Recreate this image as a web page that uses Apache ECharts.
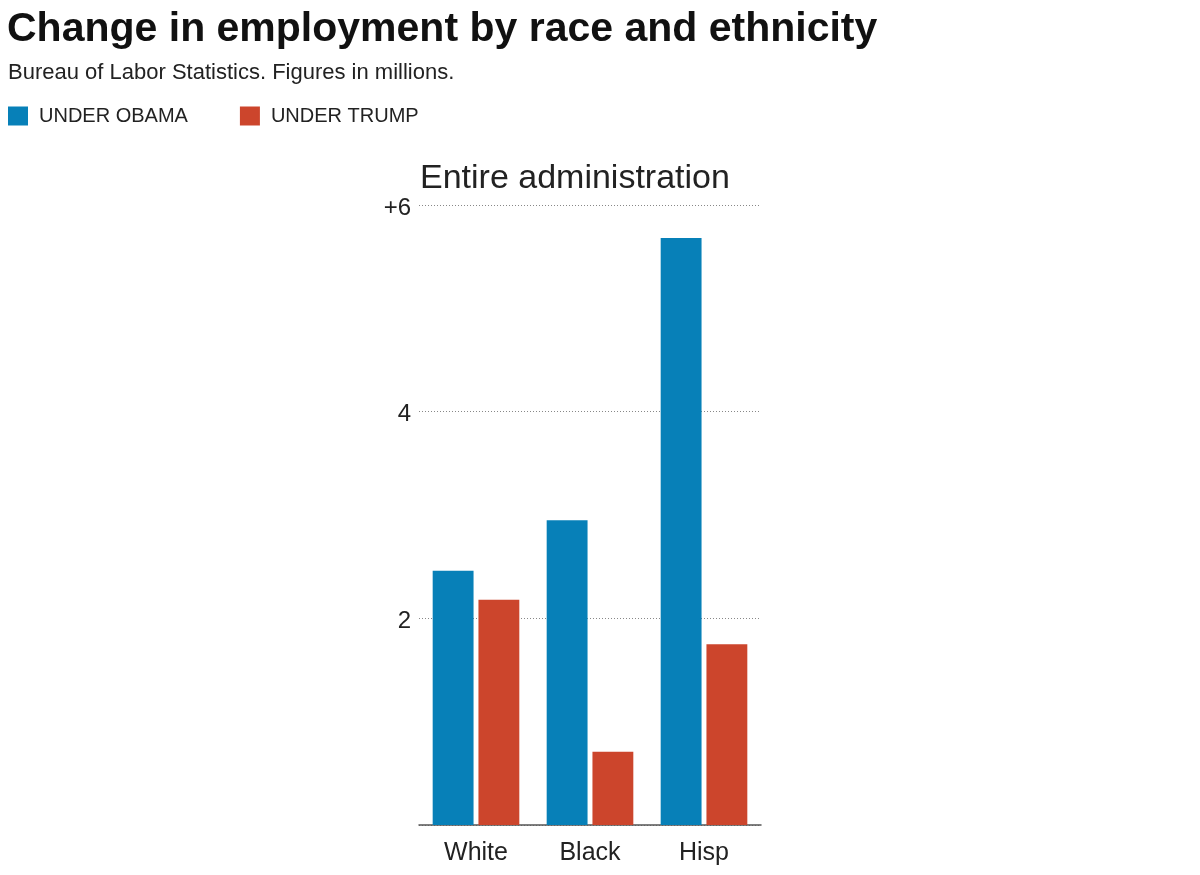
<!DOCTYPE html>
<html>
<head>
<meta charset="utf-8">
<script src="https://cdn.jsdelivr.net/npm/echarts@6/dist/echarts.min.js"></script>
<style>
  html, body { margin: 0; padding: 0; background: #fff; }
  #chart { width: 1200px; height: 875px; }
</style>
</head>
<body>
<div id="chart"></div>
<script>
const categories = ['White', 'Black', 'Hisp'];
const obama = [2.46, 2.95, 5.68];
const trump = [2.18, 0.71, 1.75];
const yTicks = [0, 2, 4, 6];

const font = '"Liberation Sans", Arial, sans-serif';
const chart = echarts.init(document.getElementById('chart'));

chart.setOption({
  animation: false,
  title: [
    {
      text: 'Change in employment by race and ethnicity',
      left: 7, top: 9, padding: 0,
      textStyle: { fontFamily: font, fontSize: 41, fontWeight: 'bold', color: '#111' }
    },
    {
      text: 'Bureau of Labor Statistics. Figures in millions.',
      left: 8, top: 62, padding: 0,
      textStyle: { fontFamily: font, fontSize: 22, fontWeight: 'normal', color: '#222' }
    },
    {
      text: 'Entire administration',
      left: 420, top: 162, padding: 0,
      textStyle: { fontFamily: font, fontSize: 34, fontWeight: 'normal', color: '#222' }
    }
  ],
  legend: {
    left: 8, top: 106, padding: 0,
    icon: 'rect',
    itemWidth: 20, itemHeight: 19,
    itemGap: 52,
    textStyle: { fontFamily: font, fontSize: 20, color: '#222', padding: [0, 0, 0, 6] },
    data: ['UNDER OBAMA', 'UNDER TRUMP']
  },
  grid: { left: 419, right: 439, top: 205, bottom: 50 },
  xAxis: {
    type: 'category',
    data: categories,
    axisLine: { lineStyle: { color: '#555', width: 1.5 } },
    axisTick: { show: false },
    axisLabel: { fontFamily: font, fontSize: 25, color: '#222', margin: 16 }
  },
  yAxis: {
    type: 'value',
    min: yTicks[0], max: yTicks[yTicks.length - 1], interval: 2,
    axisLine: { show: false },
    axisTick: { show: false },
    axisLabel: {
      margin: 8,
      formatter: v => v === 0 ? '' : '{t|' + (v === 6 ? '+6' : String(v)) + '}',
      rich: {
        t: { fontFamily: font, fontSize: 24, color: '#222', padding: [6, 0, 0, 0] }
      }
    },
    splitLine: { lineStyle: { color: '#888', type: [1, 2], width: 1 } }
  },
  series: [
    {
      name: 'UNDER OBAMA', type: 'bar', data: obama,
      itemStyle: { color: '#0780b8' },
      barGap: '12%', barCategoryGap: '24%'
    },
    {
      name: 'UNDER TRUMP', type: 'bar', data: trump,
      itemStyle: { color: '#cc452c' }
    }
  ]
});
</script>
</body>
</html>
